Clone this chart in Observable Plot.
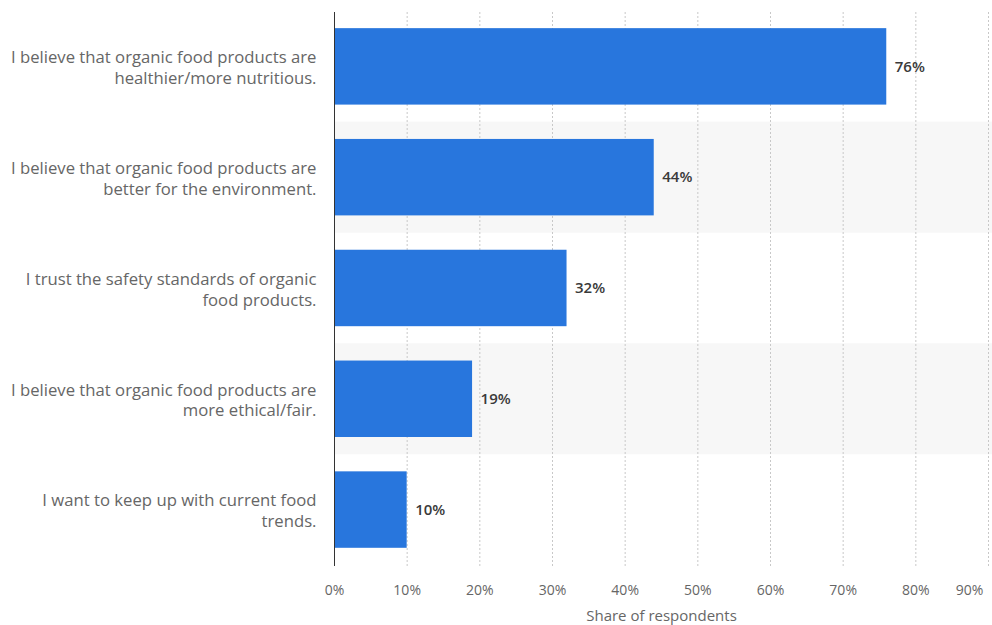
<!DOCTYPE html>
<html><head><meta charset="utf-8">
<script src="https://cdn.jsdelivr.net/npm/d3@7"></script>
<script src="https://cdn.jsdelivr.net/npm/@observablehq/plot@0.6"></script>
<style>body{margin:0;background:#fff;}</style>
</head><body><div id="chart"></div>
<script>
const categories = [
  "I believe that organic food products are\nhealthier/more nutritious.",
  "I believe that organic food products are\nbetter for the environment.",
  "I trust the safety standards of organic\nfood products.",
  "I believe that organic food products are\nmore ethical/fair.",
  "I want to keep up with current food\ntrends."
];
const values = [76, 44, 32, 19, 10];
const xTicks = [0, 10, 20, 30, 40, 50, 60, 70, 80, 90];
const xLabel = "Share of respondents";
const shadedRows = [categories[1], categories[3]];

const data = categories.map((c, i) => ({category: c, value: values[i]}));
const xMin = xTicks[0], xMax = xTicks[xTicks.length - 1];

const chart = Plot.plot({
  width: 992, height: 625,
  marginLeft: 334, marginRight: 4, marginTop: 12, marginBottom: 59,
  style: {fontFamily: '"Open Sans", sans-serif', background: "#fff"},
  x: {domain: [xMin, xMax]},
  y: {domain: categories, paddingInner: 0.31, paddingOuter: 0.155, align: 0.47, round: false, label: null},
  marks: [
    Plot.barX(shadedRows, {x1: () => xMin, x2: () => xMax, y: d => d, fill: "#f7f7f7", insetTop: -17.3, insetBottom: -17.3, insetRight: -4}),
    Plot.gridX(xTicks.slice(1), {stroke: "#c8c8c8", strokeOpacity: 1, strokeDasharray: "2,2"}),
    Plot.barX(data, {x: "value", y: "category", fill: "#2876dd"}),
    Plot.ruleX([xMin], {stroke: "#333", strokeWidth: 1}),
    Plot.text(data, {x: "value", y: "category", text: d => d.value + "%", textAnchor: "start", dx: 8, fontSize: 15, fontWeight: 600, fill: "#3a3a3a"}),
    Plot.axisY({tickSize: 0, tickPadding: 18, fontSize: 16.7, lineHeight: 1.25, color: "#666", label: null}),
    Plot.axisX(xTicks.slice(0, -1), {tickSize: 0, tickPadding: 19, fontSize: 14, color: "#666", tickFormat: d => d + "%", label: null}),
    Plot.axisX(xTicks.slice(-1), {tickSize: 0, tickPadding: 19, fontSize: 14, color: "#666", tickFormat: d => d + "%", dx: -19, label: null}),
    Plot.text([xLabel], {frameAnchor: "bottom", dy: 50, lineAnchor: "middle", fontSize: 15, fill: "#666"})
  ]
});
document.getElementById("chart").append(chart);
</script>
</body></html>
